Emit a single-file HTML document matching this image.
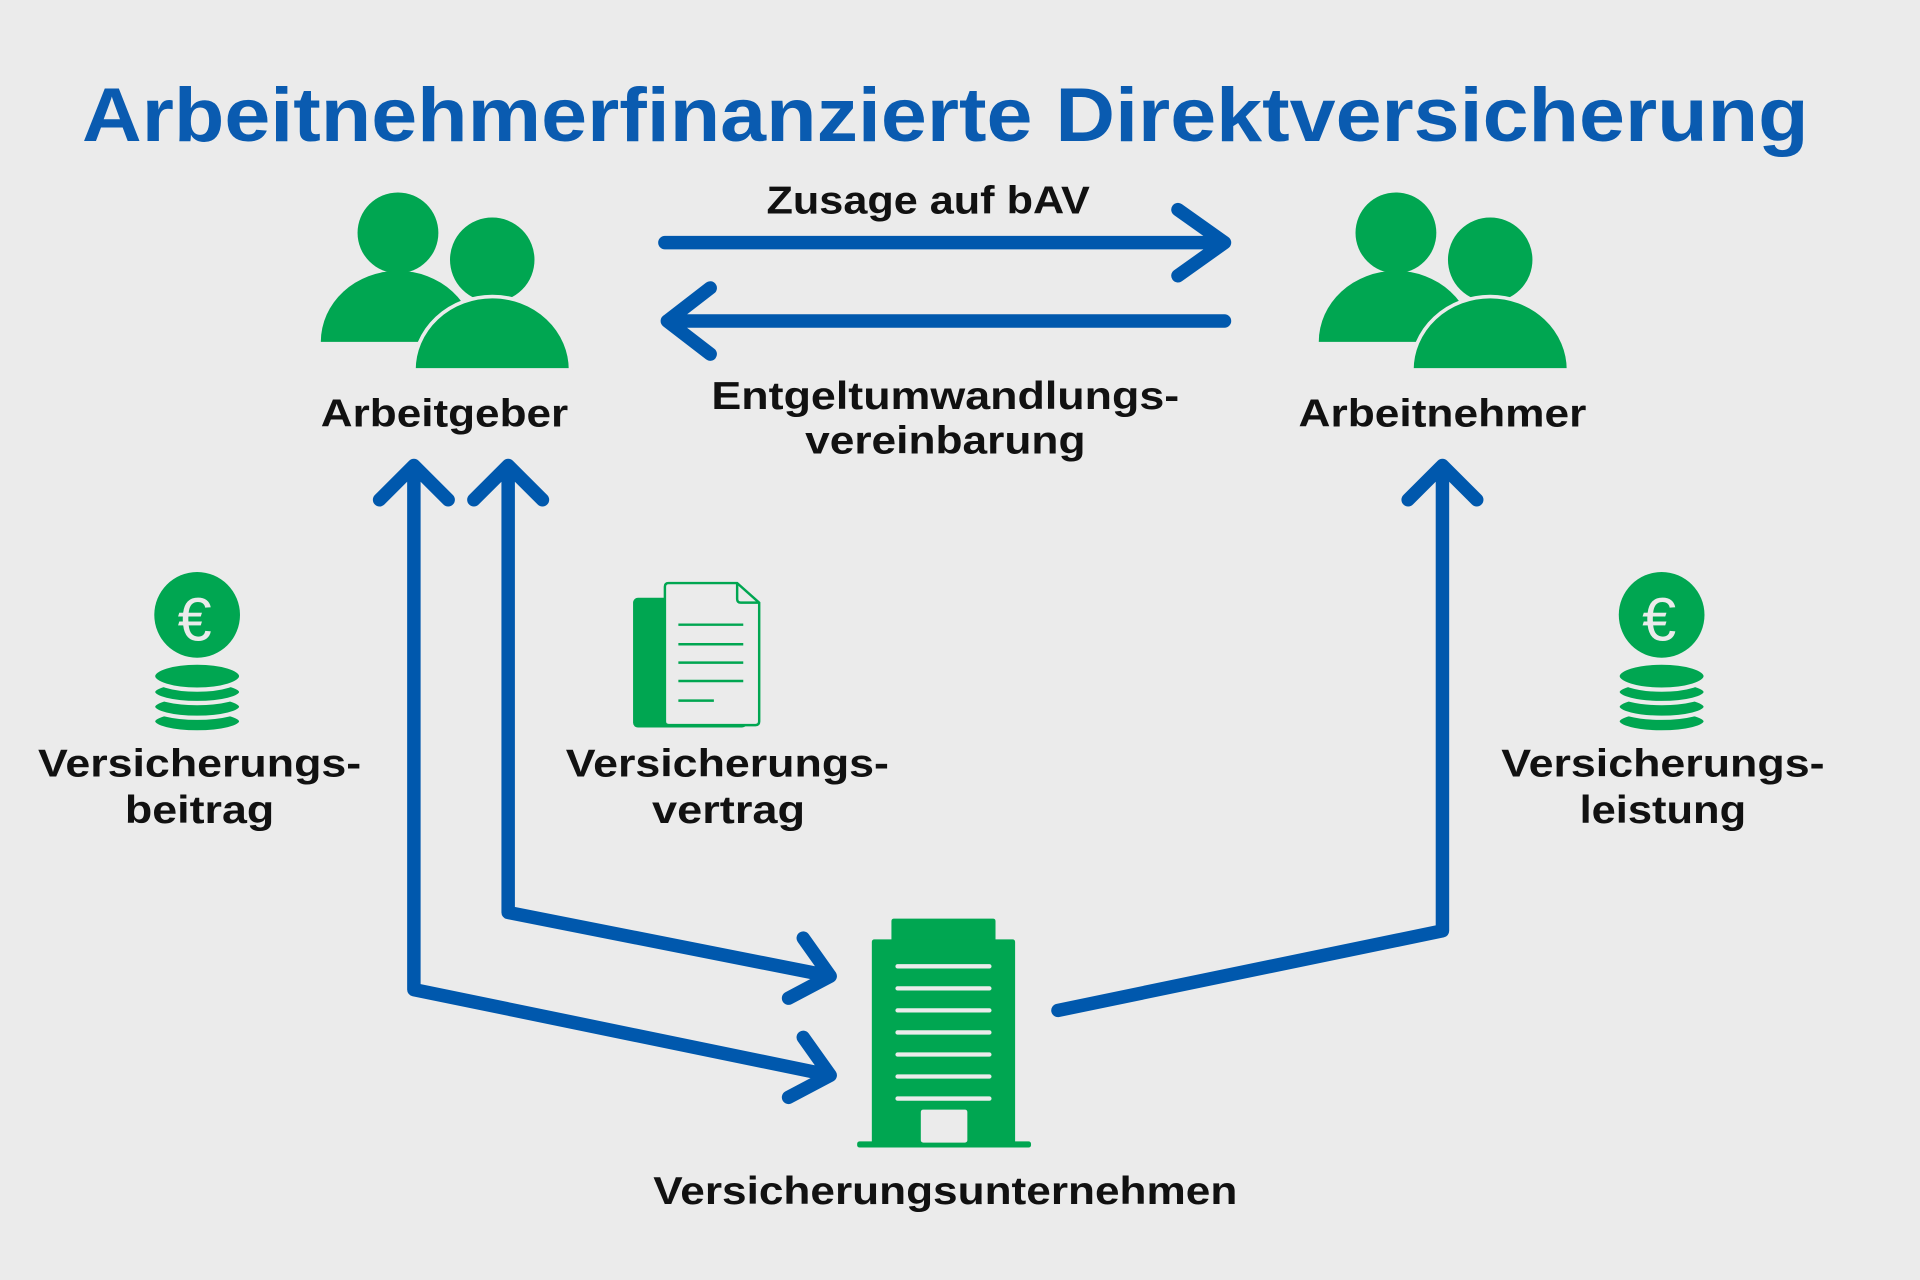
<!DOCTYPE html>
<html><head><meta charset="utf-8"><style>
html,body{margin:0;padding:0;background:#ebebeb}
svg{display:block}
text{font-family:"Liberation Sans",sans-serif;font-weight:bold}
</style></head><body>
<svg width="1920" height="1280" viewBox="0 0 1568 1045" xmlns="http://www.w3.org/2000/svg">
<rect width="1568" height="1045" fill="#ebebeb"/>
<text x="772" y="115" text-anchor="middle" font-size="62" fill="#0a5bb0" textLength="1410" lengthAdjust="spacingAndGlyphs">Arbeitnehmerfinanzierte Direktversicherung</text>

<g id="ppl" fill="#00a651">
<circle cx="325" cy="190" r="33"/>
<path d="M262,279 A63,58 0 0 1 388,279 Z"/>
<circle cx="402" cy="212" r="36" stroke="#ebebeb" stroke-width="3"/>
<path d="M338,302 A64,60 0 0 1 466,302 Z" stroke="#ebebeb" stroke-width="3"/>
</g>
<use href="#ppl" transform="translate(815,0)"/>

<g font-size="32" fill="#111" text-anchor="middle" lengthAdjust="spacingAndGlyphs">
<text x="363" y="348" textLength="202" lengthAdjust="spacingAndGlyphs">Arbeitgeber</text>
<text x="1178" y="348" textLength="235" lengthAdjust="spacingAndGlyphs">Arbeitnehmer</text>
<text x="758" y="174" textLength="264" lengthAdjust="spacingAndGlyphs">Zusage auf bAV</text>
<text x="772" y="334" textLength="382" lengthAdjust="spacingAndGlyphs">Entgeltumwandlungs-</text>
<text x="772" y="370" textLength="229" lengthAdjust="spacingAndGlyphs">vereinbarung</text>
<text x="163" y="634" textLength="264" lengthAdjust="spacingAndGlyphs">Versicherungs-</text>
<text x="163" y="672" textLength="122" lengthAdjust="spacingAndGlyphs">beitrag</text>
<text x="594" y="634" textLength="264" lengthAdjust="spacingAndGlyphs">Versicherungs-</text>
<text x="595" y="672" textLength="125" lengthAdjust="spacingAndGlyphs">vertrag</text>
<text x="1358" y="634" textLength="264" lengthAdjust="spacingAndGlyphs">Versicherungs-</text>
<text x="1358" y="672" textLength="136" lengthAdjust="spacingAndGlyphs">leistung</text>
<text x="772" y="983" textLength="477" lengthAdjust="spacingAndGlyphs">Versicherungsunternehmen</text>
</g>

<g stroke="#0058ad" stroke-width="11" fill="none" stroke-linecap="round" stroke-linejoin="round">
<path d="M543,198 H1000 M962,171 L1000,198 L962,225"/>
<path d="M1000,262 H545 M580,235 L545,262 L580,289"/>
<path d="M338,382 V808 L678,878 M310,408 L338,380 L366,408 M656,847 L678,878 L644,896"/>
<path d="M415,382 V745 L678,797 M387,408 L415,380 L443,408 M656,766 L678,797 L644,815"/>
<path d="M864,825 L1178,760 V382 M1150,408 L1178,380 L1206,408"/>
</g>

<g fill="#00a651">
<rect x="728" y="750" width="85" height="22" rx="2"/>
<rect x="712" y="767" width="117" height="169" rx="2"/>
<rect x="700" y="932" width="142" height="5" rx="2"/>
</g>
<g stroke="#ebebeb" stroke-width="3.5" stroke-linecap="round">
<path d="M733,789 H808 M733,807 H808 M733,825 H808 M733,843 H808 M733,861 H808 M733,879 H808 M733,897 H808"/>
</g>
<rect x="752" y="906" width="38" height="27" rx="2" fill="#ebebeb"/>

<rect x="517" y="488" width="93" height="106" rx="4" fill="#00a651"/>
<path d="M546,476 H602 L620,492 V589 Q620,592 617,592 H546 Q543,592 543,589 V479 Q543,476 546,476 Z" fill="#ebebeb" stroke="#00a651" stroke-width="2"/>
<path d="M602,476 V489 Q602,492 605,492 H620" fill="none" stroke="#00a651" stroke-width="2"/>
<g stroke="#00a651" stroke-width="2"><path d="M554,510 H607 M554,526 H607 M554,541 H607 M554,556 H607 M554,572 H583"/></g>

<g id="coin">
<circle cx="161" cy="502" r="35" fill="#00a651"/>
<text x="159" y="523" font-size="50" fill="#ebebeb" text-anchor="middle" style="font-weight:normal">€</text>
<g fill="#00a651" stroke="#ebebeb" stroke-width="3.5">
<ellipse cx="161" cy="589" rx="36" ry="9"/>
<ellipse cx="161" cy="577" rx="36" ry="9"/>
<ellipse cx="161" cy="565" rx="36" ry="9"/>
<ellipse cx="161" cy="552" rx="36" ry="11"/>
</g>
</g>
<use href="#coin" transform="translate(1196,0)"/>
</svg>
</body></html>
